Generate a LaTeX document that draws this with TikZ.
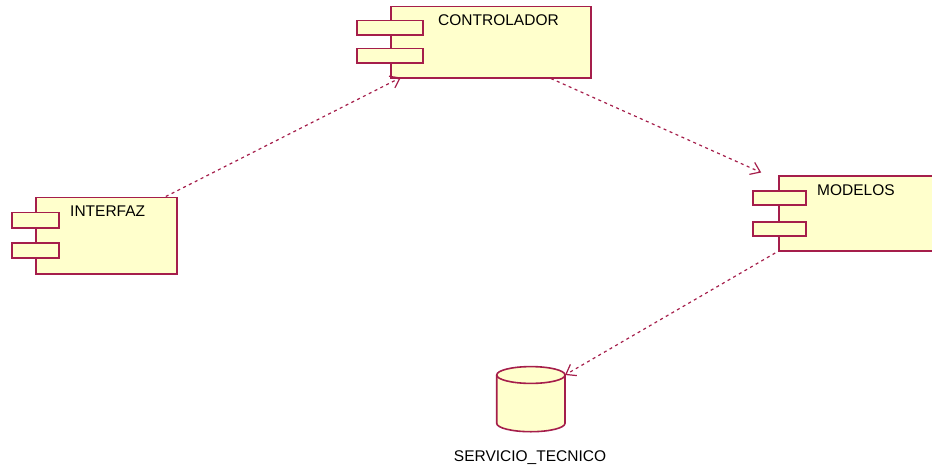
\documentclass[tikz,border=0pt]{standalone}
\usepackage{fontspec}
\setmainfont{Liberation Sans}
\usetikzlibrary{arrows.meta,calc}
\definecolor{roseline}{RGB}{165,30,75}
\definecolor{rosefill}{RGB}{255,255,204}
\begin{document}
\begin{tikzpicture}[x=1pt,y=1pt,yscale=-1,
  comp/.style={draw=roseline,fill=rosefill,line width=1.6pt,rectangle,inner sep=0pt},
  port/.style={draw=roseline,fill=rosefill,line width=1.6pt},
  lbl/.style={font=\fontsize{15.5}{18}\selectfont,inner sep=0pt,text=black},
  dep/.style={draw=roseline,line width=1.2pt,dash pattern=on 3pt off 3.5pt,
    -{Straight Barb[length=9pt,width=13pt,line width=1.2pt]}}]
\useasboundingbox (0,0) rectangle (932,474);
\clip (0,0) rectangle (932,474);

% CONTROLADOR component
\node[comp,minimum width=200pt,minimum height=71.4pt] (ctrl) at (490.7,42) {};
\draw[port] (356.7,20.3) rectangle (422.7,34.7);
\draw[port] (356.7,48.3) rectangle (422.7,62.7);
\node[lbl,anchor=west] (ctrlt) at (438,20) {CONTROLADOR};

% MODELOS component
\node[comp,minimum width=161pt,minimum height=75pt] (model) at (859.5,213.2) {};
\draw[port] (752.7,191) rectangle (805.7,205);
\draw[port] (752.7,221.7) rectangle (805.7,236);
\node[lbl,anchor=west] (modelt) at (817,190) {MODELOS};

% INTERFAZ component
\node[comp,minimum width=140.7pt,minimum height=76.7pt] (iface) at (106.35,235.65) {};
\draw[port] (12,212.3) rectangle (58.7,227.7);
\draw[port] (12,242.7) rectangle (58.7,257.7);
\node[lbl,anchor=west] (ifacet) at (70,211) {INTERFAZ};

% SERVICIO_TECNICO database
\coordinate (db) at (530.85,375);
\fill[rosefill] (496.7,375) -- (496.7,423.3) arc[start angle=180,end angle=0,x radius=34.15,y radius=8.4]
  -- (565,375) -- cycle;
\draw[roseline,line width=1.6pt,fill=rosefill] (db) ellipse[x radius=34.15,y radius=8.4];
\draw[roseline,line width=1.6pt] (496.7,375) -- (496.7,423.3)
  arc[start angle=180,end angle=0,x radius=34.15,y radius=8.4] -- (565,375);
\node[lbl] (dbt) at (530,458) {SERVICIO\_TECNICO};
\coordinate (dbin) at (565,375);

% dependencies
\draw[dep] ($(iface.north east)+(-11.7,0)$) -- ($(ctrl.south west)+(11,-1)$);
\draw[dep] ($(ctrl.south west)+(161,0)$) -- ($(model.north west)+(-17,-2.4)$);
\draw[dep] ($(model.south west)+(-3,1.5)$) -- (dbin);
\end{tikzpicture}
\end{document}
